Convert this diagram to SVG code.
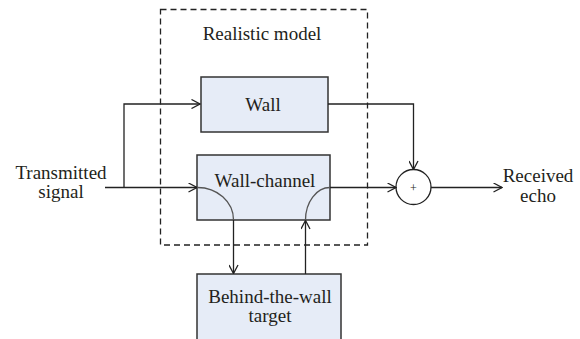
<svg xmlns="http://www.w3.org/2000/svg" width="580" height="339" viewBox="0 0 580 339">
<defs>
<style>
text{font-family:"Liberation Serif","Times New Roman",serif;font-size:19px;fill:#231f20;text-anchor:middle}
.box{fill:#e6ecf7;stroke:#333;stroke-width:1.5}
.ln{fill:none;stroke:#222;stroke-width:1.3}
.arc{fill:none;stroke:#555;stroke-width:1.3}
.dash{fill:none;stroke:#222;stroke-width:1.3;stroke-dasharray:6,4}
</style>
<marker id="ah" viewBox="0 0 10 10" refX="9.5" refY="5" markerWidth="10" markerHeight="10" markerUnits="userSpaceOnUse" orient="auto">
<path d="M1,0.5 L9.5,5 L1,9.5" fill="none" stroke="#222" stroke-width="1.3"/>
</marker>
</defs>
<rect width="580" height="339" fill="#fff"/>
<g id="realistic-model">
<rect class="dash" x="160.5" y="9.5" width="207" height="235.5"/>
<text x="262" y="40">Realistic model</text>
</g>
<g id="wall">
<rect class="box" x="201" y="77" width="127" height="55"/>
<text x="263" y="110.5">Wall</text>
</g>
<g id="wall-channel">
<rect class="box" x="197" y="155" width="133" height="65"/>
<text x="265" y="186.5">Wall-channel</text>
</g>
<g id="target">
<rect class="box" x="197" y="274" width="144" height="70"/>
<text x="270" y="303">Behind-the-wall</text>
<text x="270" y="322">target</text>
</g>
<g id="sum">
<circle cx="413.5" cy="187" r="17.5" fill="#fff" stroke="#222" stroke-width="1.3"/>
<text x="413.5" y="191.5" style="font-size:12px">+</text>
</g>
<g id="labels">
<text x="61" y="178.5">Transmitted</text>
<text x="61" y="197.5">signal</text>
<text x="538" y="182">Received</text>
<text x="538" y="201.5">echo</text>
</g>
<g id="connectors">
<path class="ln" d="M105,187.5 H197" marker-end="url(#ah)"/>
<path class="ln" d="M124,187.5 V104 H200" marker-end="url(#ah)"/>
<path class="ln" d="M328,104 H413.5 V169.5" marker-end="url(#ah)"/>
<path class="ln" d="M330,187.5 H396" marker-end="url(#ah)"/>
<path class="ln" d="M431,187.5 H502" marker-end="url(#ah)"/>
<path class="arc" d="M197,187.5 A36,32.5 0 0 1 233.5,220"/>
<path class="ln" d="M233.5,220 V273.5" marker-end="url(#ah)"/>
<path class="ln" d="M305.5,274 V220.5" marker-end="url(#ah)"/>
<path class="arc" d="M305.5,220 A24.5,32.5 0 0 1 330,187.5"/>
</g>
</svg>
